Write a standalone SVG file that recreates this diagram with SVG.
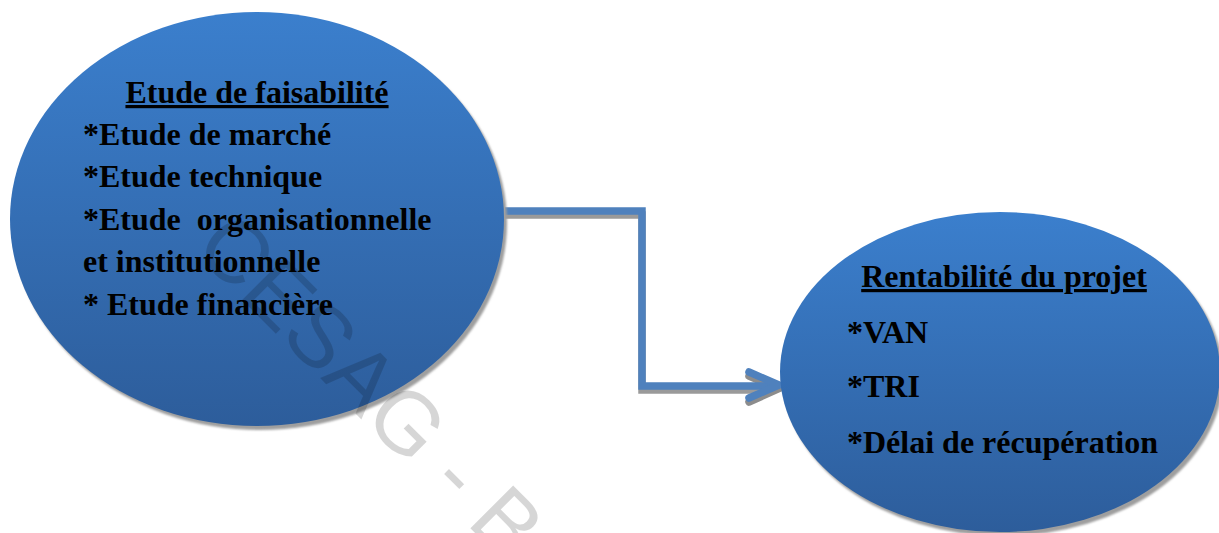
<svg xmlns="http://www.w3.org/2000/svg" width="1219" height="533" viewBox="0 0 1219 533">
  <defs>
    <linearGradient id="nodeFill" x1="0" y1="0" x2="0" y2="1">
      <stop offset="0" stop-color="#3b7fcd"/>
      <stop offset="1" stop-color="#2d5d9b"/>
    </linearGradient>
    <filter id="soft" x="-5%" y="-5%" width="110%" height="110%">
      <feGaussianBlur stdDeviation="1.2"/>
    </filter>
  </defs>
  <style>
    .shadow { fill: #9e9e9e; filter: url(#soft); }
    .node { fill: url(#nodeFill); }
    .label { font-family: "Liberation Serif", "Times New Roman", serif; font-weight: bold; font-size: 32px; fill: #000; white-space: pre; }
    .title { text-decoration: underline; }
    .link { fill: none; stroke: #4f81bd; stroke-width: 7.5; stroke-linejoin: miter; }
    .link-shadow { fill: none; stroke: #9a9a9a; stroke-width: 7.5; stroke-linejoin: miter; }
    .head { fill: none; stroke: #4f81bd; stroke-width: 7.5; stroke-linecap: round; stroke-linejoin: miter; }
    .head-shadow { fill: none; stroke: #8c8c8c; stroke-width: 7.5; stroke-linecap: round; }
    .stamp { font-family: "Liberation Sans", Arial, sans-serif; font-size: 88px; fill: #000; fill-opacity: 0.16; }
  </style>

  <!-- elbow connector between the two nodes -->
  <g id="connectors">
    <path class="link-shadow" d="M505 215 H642 V390 H772"/>
    <path class="head-shadow" d="M749 376 L778 389 L749 402"/>
    <path class="link" d="M505 211 H642 V386 H774"/>
    <path class="head" d="M749 372 L779 385 L749 398"/>
  </g>

  <g id="node-faisabilite">
    <ellipse class="shadow" cx="260" cy="223" rx="247" ry="207"/>
    <ellipse class="node" cx="257" cy="219" rx="247" ry="207"/>
    <text class="label title" x="257" y="103" text-anchor="middle">Etude de faisabilité</text>
    <text class="label" x="83" y="145">*Etude de marché</text>
    <text class="label" x="83" y="187">*Etude technique</text>
    <text class="label" x="83" y="230">*Etude  organisationnelle</text>
    <text class="label" x="83" y="272">et institutionnelle</text>
    <text class="label" x="83" y="315">* Etude financière</text>
  </g>

  <g id="node-rentabilite">
    <ellipse class="shadow" cx="1003" cy="376" rx="220" ry="160"/>
    <ellipse class="node" cx="1000" cy="372" rx="220" ry="160"/>
    <text class="label title" x="1004" y="287" text-anchor="middle">Rentabilité du projet</text>
    <text class="label" x="847" y="343">*VAN</text>
    <text class="label" x="847" y="397">*TRI</text>
    <text class="label" x="847" y="453">*Délai de récupération</text>
  </g>

  <!-- diagonal stamp across the page -->
  <text class="stamp" transform="translate(192,250) rotate(45)">CESAG - B</text>
</svg>
